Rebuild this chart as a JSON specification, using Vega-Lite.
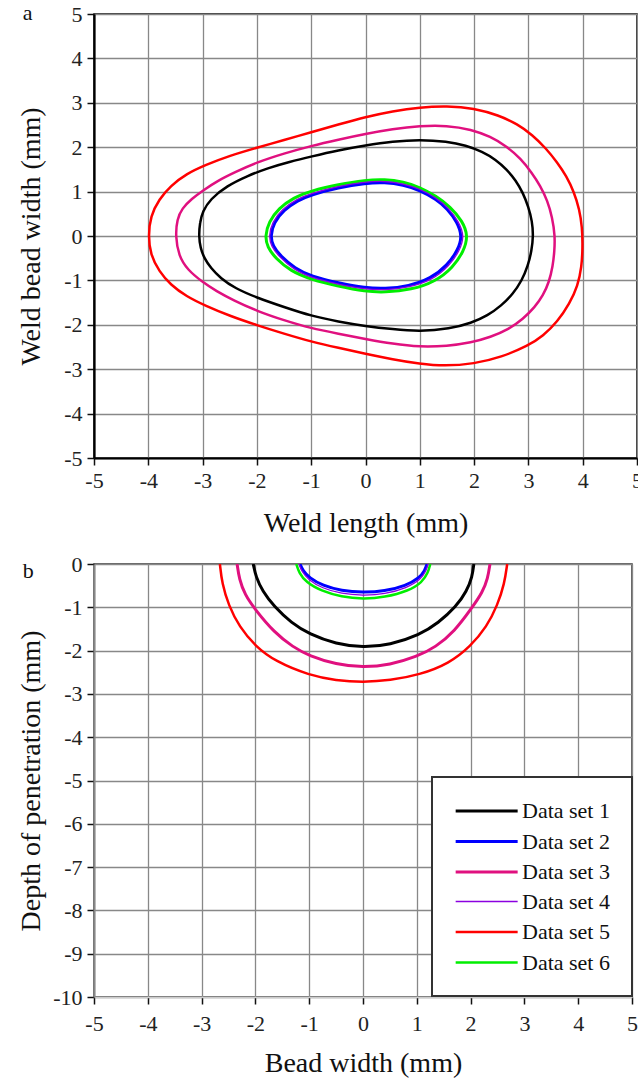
{
  "$schema": "https://vega.github.io/schema/vega-lite/v6.json",
  "background": "white",
  "padding": {"left": 16, "top": 1, "right": 0, "bottom": 0},
  "columns": 1,
  "spacing": 14,
  "config": {
    "font": "Liberation Serif",
    "axis": {
      "labelFont": "Liberation Serif", "labelFontSize": 22, "labelColor": "#222",
      "labelExpr": "replace(datum.label, '\u2212', '-')",
      "titleFont": "Liberation Serif", "titleFontSize": 28, "titleFontWeight": "normal", "titleColor": "#111",
      "tickColor": "#111", "tickSize": 7, "tickWidth": 1.5, "labelPadding": 5,
      "grid": true, "gridColor": "#888888", "gridWidth": 1.3,
      "domainColor": "#000", "domainWidth": 2.2
    },
    "legend": {"strokeWidth": 2}
  },
  "datasets": {
    "a": [
      {"s":"Data set 1","i":0,"x":-3.07,"y":0},{"s":"Data set 1","i":1,"x":-3.05,"y":0.3},{"s":"Data set 1","i":2,"x":-3.0,"y":0.55},{"s":"Data set 1","i":3,"x":-2.86,"y":0.83},{"s":"Data set 1","i":4,"x":-2.55,"y":1.13},{"s":"Data set 1","i":5,"x":-2.18,"y":1.35},{"s":"Data set 1","i":6,"x":-1.8,"y":1.53},{"s":"Data set 1","i":7,"x":-1.4,"y":1.67},{"s":"Data set 1","i":8,"x":-1,"y":1.79},{"s":"Data set 1","i":9,"x":-0.5,"y":1.93},{"s":"Data set 1","i":10,"x":0,"y":2.04},{"s":"Data set 1","i":11,"x":0.5,"y":2.13},{"s":"Data set 1","i":12,"x":1,"y":2.17},{"s":"Data set 1","i":13,"x":1.5,"y":2.13},{"s":"Data set 1","i":14,"x":1.85,"y":2.04},{"s":"Data set 1","i":15,"x":2.15,"y":1.9},{"s":"Data set 1","i":16,"x":2.4,"y":1.72},{"s":"Data set 1","i":17,"x":2.6,"y":1.5},{"s":"Data set 1","i":18,"x":2.77,"y":1.25},{"s":"Data set 1","i":19,"x":2.9,"y":0.97},{"s":"Data set 1","i":20,"x":3.0,"y":0.66},{"s":"Data set 1","i":21,"x":3.07,"y":0.33},{"s":"Data set 1","i":22,"x":3.09,"y":0},{"s":"Data set 1","i":23,"x":3.06,"y":-0.33},{"s":"Data set 1","i":24,"x":2.99,"y":-0.68},{"s":"Data set 1","i":25,"x":2.88,"y":-1.0},{"s":"Data set 1","i":26,"x":2.72,"y":-1.3},{"s":"Data set 1","i":27,"x":2.5,"y":-1.57},{"s":"Data set 1","i":28,"x":2.25,"y":-1.79},{"s":"Data set 1","i":29,"x":1.95,"y":-1.96},{"s":"Data set 1","i":30,"x":1.55,"y":-2.09},{"s":"Data set 1","i":31,"x":1,"y":-2.15},{"s":"Data set 1","i":32,"x":0.5,"y":-2.1},{"s":"Data set 1","i":33,"x":0,"y":-2.03},{"s":"Data set 1","i":34,"x":-0.5,"y":-1.93},{"s":"Data set 1","i":35,"x":-1,"y":-1.8},{"s":"Data set 1","i":36,"x":-1.5,"y":-1.6},{"s":"Data set 1","i":37,"x":-2,"y":-1.39},{"s":"Data set 1","i":38,"x":-2.4,"y":-1.18},{"s":"Data set 1","i":39,"x":-2.67,"y":-0.95},{"s":"Data set 1","i":40,"x":-2.85,"y":-0.72},{"s":"Data set 1","i":41,"x":-2.97,"y":-0.5},{"s":"Data set 1","i":42,"x":-3.04,"y":-0.27},

      {"s":"Data set 3","i":0,"x":-3.5,"y":0},{"s":"Data set 3","i":1,"x":-3.47,"y":0.38},{"s":"Data set 3","i":2,"x":-3.38,"y":0.62},{"s":"Data set 3","i":3,"x":-3.2,"y":0.84},{"s":"Data set 3","i":4,"x":-3,"y":1.02},{"s":"Data set 3","i":5,"x":-2.73,"y":1.24},{"s":"Data set 3","i":6,"x":-2.4,"y":1.44},{"s":"Data set 3","i":7,"x":-2,"y":1.66},{"s":"Data set 3","i":8,"x":-1.5,"y":1.86},{"s":"Data set 3","i":9,"x":-1,"y":2.03},{"s":"Data set 3","i":10,"x":-0.5,"y":2.17},{"s":"Data set 3","i":11,"x":0,"y":2.3},{"s":"Data set 3","i":12,"x":0.5,"y":2.41},{"s":"Data set 3","i":13,"x":1,"y":2.48},{"s":"Data set 3","i":14,"x":1.5,"y":2.49},{"s":"Data set 3","i":15,"x":1.95,"y":2.4},{"s":"Data set 3","i":16,"x":2.3,"y":2.24},{"s":"Data set 3","i":17,"x":2.6,"y":2.02},{"s":"Data set 3","i":18,"x":2.86,"y":1.74},{"s":"Data set 3","i":19,"x":3.06,"y":1.43},{"s":"Data set 3","i":20,"x":3.22,"y":1.13},{"s":"Data set 3","i":21,"x":3.35,"y":0.8},{"s":"Data set 3","i":22,"x":3.44,"y":0.42},{"s":"Data set 3","i":23,"x":3.49,"y":0},{"s":"Data set 3","i":24,"x":3.48,"y":-0.33},{"s":"Data set 3","i":25,"x":3.45,"y":-0.68},{"s":"Data set 3","i":26,"x":3.38,"y":-1.04},{"s":"Data set 3","i":27,"x":3.27,"y":-1.34},{"s":"Data set 3","i":28,"x":3.12,"y":-1.6},{"s":"Data set 3","i":29,"x":2.9,"y":-1.87},{"s":"Data set 3","i":30,"x":2.64,"y":-2.1},{"s":"Data set 3","i":31,"x":2.3,"y":-2.28},{"s":"Data set 3","i":32,"x":1.95,"y":-2.4},{"s":"Data set 3","i":33,"x":1.5,"y":-2.48},{"s":"Data set 3","i":34,"x":1,"y":-2.5},{"s":"Data set 3","i":35,"x":0.5,"y":-2.43},{"s":"Data set 3","i":36,"x":0,"y":-2.32},{"s":"Data set 3","i":37,"x":-0.5,"y":-2.2},{"s":"Data set 3","i":38,"x":-1,"y":-2.08},{"s":"Data set 3","i":39,"x":-1.5,"y":-1.9},{"s":"Data set 3","i":40,"x":-2,"y":-1.69},{"s":"Data set 3","i":41,"x":-2.43,"y":-1.45},{"s":"Data set 3","i":42,"x":-2.75,"y":-1.24},{"s":"Data set 3","i":43,"x":-3,"y":-1.04},{"s":"Data set 3","i":44,"x":-3.28,"y":-0.76},{"s":"Data set 3","i":45,"x":-3.44,"y":-0.45},

      {"s":"Data set 5","i":0,"x":-4,"y":0},{"s":"Data set 5","i":1,"x":-3.96,"y":0.45},{"s":"Data set 5","i":2,"x":-3.8,"y":0.83},{"s":"Data set 5","i":3,"x":-3.59,"y":1.13},{"s":"Data set 5","i":4,"x":-3.3,"y":1.4},{"s":"Data set 5","i":5,"x":-2.95,"y":1.6},{"s":"Data set 5","i":6,"x":-2.5,"y":1.81},{"s":"Data set 5","i":7,"x":-2,"y":1.99},{"s":"Data set 5","i":8,"x":-1.5,"y":2.16},{"s":"Data set 5","i":9,"x":-1,"y":2.34},{"s":"Data set 5","i":10,"x":-0.5,"y":2.51},{"s":"Data set 5","i":11,"x":0,"y":2.68},{"s":"Data set 5","i":12,"x":0.5,"y":2.81},{"s":"Data set 5","i":13,"x":1,"y":2.9},{"s":"Data set 5","i":14,"x":1.5,"y":2.93},{"s":"Data set 5","i":15,"x":2,"y":2.88},{"s":"Data set 5","i":16,"x":2.45,"y":2.72},{"s":"Data set 5","i":17,"x":2.8,"y":2.52},{"s":"Data set 5","i":18,"x":3.07,"y":2.28},{"s":"Data set 5","i":19,"x":3.32,"y":1.98},{"s":"Data set 5","i":20,"x":3.53,"y":1.66},{"s":"Data set 5","i":21,"x":3.7,"y":1.35},{"s":"Data set 5","i":22,"x":3.84,"y":0.99},{"s":"Data set 5","i":23,"x":3.94,"y":0.6},{"s":"Data set 5","i":24,"x":3.99,"y":0.2},{"s":"Data set 5","i":25,"x":4.0,"y":-0.25},{"s":"Data set 5","i":26,"x":3.98,"y":-0.7},{"s":"Data set 5","i":27,"x":3.91,"y":-1.12},{"s":"Data set 5","i":28,"x":3.76,"y":-1.52},{"s":"Data set 5","i":29,"x":3.53,"y":-1.94},{"s":"Data set 5","i":30,"x":3.27,"y":-2.25},{"s":"Data set 5","i":31,"x":3,"y":-2.47},{"s":"Data set 5","i":32,"x":2.5,"y":-2.73},{"s":"Data set 5","i":33,"x":2,"y":-2.88},{"s":"Data set 5","i":34,"x":1.45,"y":-2.93},{"s":"Data set 5","i":35,"x":1,"y":-2.88},{"s":"Data set 5","i":36,"x":0.5,"y":-2.78},{"s":"Data set 5","i":37,"x":0,"y":-2.65},{"s":"Data set 5","i":38,"x":-0.5,"y":-2.52},{"s":"Data set 5","i":39,"x":-1,"y":-2.38},{"s":"Data set 5","i":40,"x":-1.5,"y":-2.2},{"s":"Data set 5","i":41,"x":-2,"y":-2.01},{"s":"Data set 5","i":42,"x":-2.5,"y":-1.8},{"s":"Data set 5","i":43,"x":-2.95,"y":-1.57},{"s":"Data set 5","i":44,"x":-3.3,"y":-1.36},{"s":"Data set 5","i":45,"x":-3.59,"y":-1.1},{"s":"Data set 5","i":46,"x":-3.8,"y":-0.8},{"s":"Data set 5","i":47,"x":-3.96,"y":-0.42},

      {"s":"Data set 6","i":0,"x":-1.85,"y":0},{"s":"Data set 6","i":1,"x":-1.78,"y":0.32},{"s":"Data set 6","i":2,"x":-1.6,"y":0.62},{"s":"Data set 6","i":3,"x":-1.33,"y":0.86},{"s":"Data set 6","i":4,"x":-1,"y":1.02},{"s":"Data set 6","i":5,"x":-0.5,"y":1.16},{"s":"Data set 6","i":6,"x":0,"y":1.26},{"s":"Data set 6","i":7,"x":0.35,"y":1.28},{"s":"Data set 6","i":8,"x":0.7,"y":1.22},{"s":"Data set 6","i":9,"x":1,"y":1.1},{"s":"Data set 6","i":10,"x":1.3,"y":0.9},{"s":"Data set 6","i":11,"x":1.56,"y":0.66},{"s":"Data set 6","i":12,"x":1.79,"y":0.33},{"s":"Data set 6","i":13,"x":1.89,"y":0},{"s":"Data set 6","i":14,"x":1.81,"y":-0.34},{"s":"Data set 6","i":15,"x":1.61,"y":-0.71},{"s":"Data set 6","i":16,"x":1.28,"y":-1.03},{"s":"Data set 6","i":17,"x":0.85,"y":-1.21},{"s":"Data set 6","i":18,"x":0.35,"y":-1.27},{"s":"Data set 6","i":19,"x":0,"y":-1.25},{"s":"Data set 6","i":20,"x":-0.5,"y":-1.13},{"s":"Data set 6","i":21,"x":-1,"y":-0.98},{"s":"Data set 6","i":22,"x":-1.38,"y":-0.79},{"s":"Data set 6","i":23,"x":-1.65,"y":-0.51},{"s":"Data set 6","i":24,"x":-1.81,"y":-0.25},

      {"s":"Data set 2","i":0,"x":-1.75,"y":0},{"s":"Data set 2","i":1,"x":-1.69,"y":0.3},{"s":"Data set 2","i":2,"x":-1.51,"y":0.58},{"s":"Data set 2","i":3,"x":-1.25,"y":0.8},{"s":"Data set 2","i":4,"x":-1,"y":0.93},{"s":"Data set 2","i":5,"x":-0.5,"y":1.09},{"s":"Data set 2","i":6,"x":0,"y":1.19},{"s":"Data set 2","i":7,"x":0.35,"y":1.21},{"s":"Data set 2","i":8,"x":0.7,"y":1.15},{"s":"Data set 2","i":9,"x":1,"y":1.03},{"s":"Data set 2","i":10,"x":1.3,"y":0.83},{"s":"Data set 2","i":11,"x":1.51,"y":0.61},{"s":"Data set 2","i":12,"x":1.69,"y":0.31},{"s":"Data set 2","i":13,"x":1.78,"y":0},{"s":"Data set 2","i":14,"x":1.71,"y":-0.3},{"s":"Data set 2","i":15,"x":1.51,"y":-0.66},{"s":"Data set 2","i":16,"x":1.2,"y":-0.96},{"s":"Data set 2","i":17,"x":0.8,"y":-1.13},{"s":"Data set 2","i":18,"x":0.35,"y":-1.19},{"s":"Data set 2","i":19,"x":0,"y":-1.17},{"s":"Data set 2","i":20,"x":-0.5,"y":-1.06},{"s":"Data set 2","i":21,"x":-1,"y":-0.91},{"s":"Data set 2","i":22,"x":-1.3,"y":-0.73},{"s":"Data set 2","i":23,"x":-1.56,"y":-0.46},{"s":"Data set 2","i":24,"x":-1.71,"y":-0.22},

      {"s":"Data set 4","i":0,"x":-1.78,"y":0},{"s":"Data set 4","i":1,"x":-1.72,"y":0.31},{"s":"Data set 4","i":2,"x":-1.54,"y":0.6},{"s":"Data set 4","i":3,"x":-1.27,"y":0.83},{"s":"Data set 4","i":4,"x":-1,"y":0.96},{"s":"Data set 4","i":5,"x":-0.5,"y":1.12},{"s":"Data set 4","i":6,"x":0,"y":1.22},{"s":"Data set 4","i":7,"x":0.35,"y":1.24},{"s":"Data set 4","i":8,"x":0.7,"y":1.18},{"s":"Data set 4","i":9,"x":1,"y":1.06},{"s":"Data set 4","i":10,"x":1.3,"y":0.86},{"s":"Data set 4","i":11,"x":1.53,"y":0.63},{"s":"Data set 4","i":12,"x":1.72,"y":0.32},{"s":"Data set 4","i":13,"x":1.82,"y":0},{"s":"Data set 4","i":14,"x":1.74,"y":-0.32},{"s":"Data set 4","i":15,"x":1.54,"y":-0.68},{"s":"Data set 4","i":16,"x":1.23,"y":-0.99},{"s":"Data set 4","i":17,"x":0.81,"y":-1.16},{"s":"Data set 4","i":18,"x":0.35,"y":-1.22},{"s":"Data set 4","i":19,"x":0,"y":-1.2},{"s":"Data set 4","i":20,"x":-0.5,"y":-1.09},{"s":"Data set 4","i":21,"x":-1,"y":-0.94},{"s":"Data set 4","i":22,"x":-1.33,"y":-0.75},{"s":"Data set 4","i":23,"x":-1.59,"y":-0.47},{"s":"Data set 4","i":24,"x":-1.74,"y":-0.23}
    ],
    "b": [
      {"s":"Data set 1","i":0,"x":-2.04,"y":0},{"s":"Data set 1","i":1,"x":-1.99,"y":-0.3},{"s":"Data set 1","i":2,"x":-1.87,"y":-0.62},{"s":"Data set 1","i":3,"x":-1.65,"y":-0.99},{"s":"Data set 1","i":4,"x":-1.33,"y":-1.36},{"s":"Data set 1","i":5,"x":-1,"y":-1.62},{"s":"Data set 1","i":6,"x":-0.5,"y":-1.85},{"s":"Data set 1","i":7,"x":0,"y":-1.93},{"s":"Data set 1","i":8,"x":0.5,"y":-1.87},{"s":"Data set 1","i":9,"x":1.05,"y":-1.64},{"s":"Data set 1","i":10,"x":1.4,"y":-1.36},{"s":"Data set 1","i":11,"x":1.73,"y":-0.99},{"s":"Data set 1","i":12,"x":1.93,"y":-0.62},{"s":"Data set 1","i":13,"x":2.03,"y":-0.3},{"s":"Data set 1","i":14,"x":2.06,"y":0},

      {"s":"Data set 3","i":0,"x":-2.34,"y":0},{"s":"Data set 3","i":1,"x":-2.3,"y":-0.35},{"s":"Data set 3","i":2,"x":-2.2,"y":-0.7},{"s":"Data set 3","i":3,"x":-2.0,"y":-1.06},{"s":"Data set 3","i":4,"x":-1.65,"y":-1.58},{"s":"Data set 3","i":5,"x":-1.3,"y":-1.92},{"s":"Data set 3","i":6,"x":-1,"y":-2.12},{"s":"Data set 3","i":7,"x":-0.5,"y":-2.32},{"s":"Data set 3","i":8,"x":0,"y":-2.39},{"s":"Data set 3","i":9,"x":0.5,"y":-2.33},{"s":"Data set 3","i":10,"x":1.0,"y":-2.14},{"s":"Data set 3","i":11,"x":1.35,"y":-1.92},{"s":"Data set 3","i":12,"x":1.7,"y":-1.56},{"s":"Data set 3","i":13,"x":2.02,"y":-1.02},{"s":"Data set 3","i":14,"x":2.22,"y":-0.66},{"s":"Data set 3","i":15,"x":2.32,"y":-0.33},{"s":"Data set 3","i":16,"x":2.36,"y":0},

      {"s":"Data set 5","i":0,"x":-2.66,"y":0},{"s":"Data set 5","i":1,"x":-2.62,"y":-0.45},{"s":"Data set 5","i":2,"x":-2.5,"y":-0.95},{"s":"Data set 5","i":3,"x":-2.3,"y":-1.45},{"s":"Data set 5","i":4,"x":-2.0,"y":-1.9},{"s":"Data set 5","i":5,"x":-1.63,"y":-2.25},{"s":"Data set 5","i":6,"x":-1.0,"y":-2.57},{"s":"Data set 5","i":7,"x":-0.5,"y":-2.69},{"s":"Data set 5","i":8,"x":0,"y":-2.73},{"s":"Data set 5","i":9,"x":0.5,"y":-2.69},{"s":"Data set 5","i":10,"x":1.05,"y":-2.56},{"s":"Data set 5","i":11,"x":1.6,"y":-2.3},{"s":"Data set 5","i":12,"x":2.0,"y":-1.9},{"s":"Data set 5","i":13,"x":2.3,"y":-1.45},{"s":"Data set 5","i":14,"x":2.5,"y":-0.95},{"s":"Data set 5","i":15,"x":2.63,"y":-0.45},{"s":"Data set 5","i":16,"x":2.68,"y":0},

      {"s":"Data set 6","i":0,"x":-1.24,"y":0},{"s":"Data set 6","i":1,"x":-1.19,"y":-0.2},{"s":"Data set 6","i":2,"x":-1.06,"y":-0.42},{"s":"Data set 6","i":3,"x":-0.78,"y":-0.62},{"s":"Data set 6","i":4,"x":-0.4,"y":-0.76},{"s":"Data set 6","i":5,"x":0,"y":-0.81},{"s":"Data set 6","i":6,"x":0.4,"y":-0.77},{"s":"Data set 6","i":7,"x":0.85,"y":-0.62},{"s":"Data set 6","i":8,"x":1.1,"y":-0.42},{"s":"Data set 6","i":9,"x":1.21,"y":-0.2},{"s":"Data set 6","i":10,"x":1.25,"y":0},

      {"s":"Data set 2","i":0,"x":-1.17,"y":0},{"s":"Data set 2","i":1,"x":-1.12,"y":-0.15},{"s":"Data set 2","i":2,"x":-1.0,"y":-0.32},{"s":"Data set 2","i":3,"x":-0.75,"y":-0.5},{"s":"Data set 2","i":4,"x":-0.4,"y":-0.62},{"s":"Data set 2","i":5,"x":0,"y":-0.66},{"s":"Data set 2","i":6,"x":0.4,"y":-0.63},{"s":"Data set 2","i":7,"x":0.8,"y":-0.5},{"s":"Data set 2","i":8,"x":1.05,"y":-0.32},{"s":"Data set 2","i":9,"x":1.15,"y":-0.15},{"s":"Data set 2","i":10,"x":1.19,"y":0},

      {"s":"Data set 4","i":0,"x":-1.19,"y":0},{"s":"Data set 4","i":1,"x":-1.14,"y":-0.17},{"s":"Data set 4","i":2,"x":-1.02,"y":-0.36},{"s":"Data set 4","i":3,"x":-0.76,"y":-0.56},{"s":"Data set 4","i":4,"x":-0.4,"y":-0.69},{"s":"Data set 4","i":5,"x":0,"y":-0.73},{"s":"Data set 4","i":6,"x":0.4,"y":-0.7},{"s":"Data set 4","i":7,"x":0.82,"y":-0.55},{"s":"Data set 4","i":8,"x":1.07,"y":-0.36},{"s":"Data set 4","i":9,"x":1.17,"y":-0.17},{"s":"Data set 4","i":10,"x":1.21,"y":0}
    ]
  },
  "concat": [
    {
      "width": 543,
      "height": 444,
      "title": {"text": "a", "anchor": "start", "frame": "bounds", "font": "Liberation Serif", "fontSize": 22, "fontWeight": "normal", "color": "#111", "dx": 5, "dy": 22, "offset": 0},
      "data": {"name": "a"},
      "view": {"stroke": "#000", "strokeWidth": 1.5},
      "mark": {"type": "line", "interpolate": "basis-closed", "clip": true},
      "encoding": {
        "x": {"field": "x", "type": "quantitative", "scale": {"domain": [-5, 5], "nice": false},
              "axis": {"title": "Weld length (mm)", "values": [-5,-4,-3,-2,-1,0,1,2,3,4,5], "titlePadding": 18, "labelFlush": false}},
        "y": {"field": "y", "type": "quantitative", "scale": {"domain": [-5, 5], "nice": false},
              "axis": {"title": "Weld bead width (mm)", "values": [-5,-4,-3,-2,-1,0,1,2,3,4,5], "titlePadding": 18, "labelFlush": false}},
        "color": {"field": "s", "type": "nominal",
                  "scale": {"domain": ["Data set 1","Data set 2","Data set 3","Data set 4","Data set 5","Data set 6"],
                            "range": ["#000000","#0000ff","#e0107f","#8b00e0","#ff0000","#00ee00"]}, "legend": null},
        "strokeWidth": {"field": "s", "type": "nominal",
                        "scale": {"type": "ordinal", "domain": ["Data set 1","Data set 2","Data set 3","Data set 4","Data set 5","Data set 6"],
                                  "range": [2.5, 3, 2.5, 1.3, 2.5, 3]}, "legend": null},
        "order": {"field": "i", "type": "quantitative"}
      }
    },
    {
      "width": 538,
      "height": 433,
      "title": {"text": "b", "anchor": "start", "frame": "bounds", "font": "Liberation Serif", "fontSize": 22, "fontWeight": "normal", "color": "#111", "dx": 5, "dy": 30, "offset": 0},
      "data": {"name": "b"},
      "view": {"stroke": "#333", "strokeWidth": 1.5},
      "mark": {"type": "line", "interpolate": "basis", "clip": true},
      "encoding": {
        "x": {"field": "x", "type": "quantitative", "scale": {"domain": [-5, 5], "nice": false},
              "axis": {"title": "Bead width (mm)", "values": [-5,-4,-3,-2,-1,0,1,2,3,4,5], "titlePadding": 15, "labelPadding": 9, "labelFlush": false, "domainColor": "#cccccc", "domainWidth": 1.5}},
        "y": {"field": "y", "type": "quantitative", "scale": {"domain": [-10, 0], "nice": false},
              "axis": {"title": "Depth of penetration (mm)", "values": [-10,-9,-8,-7,-6,-5,-4,-3,-2,-1,0], "titlePadding": 7, "labelFlush": false, "domainColor": "#888888", "domainWidth": 2}},
        "color": {"field": "s", "type": "nominal",
                  "scale": {"domain": ["Data set 1","Data set 2","Data set 3","Data set 4","Data set 5","Data set 6"],
                            "range": ["#000000","#0000ff","#e0107f","#8b00e0","#ff0000","#00ee00"]},
                  "legend": {"orient": "none", "legendX": 338, "legendY": 213, "title": null, "padding": 22,
                             "fillColor": "white", "strokeColor": "#333", "symbolType": "M-1,0H5", "symbolSize": 427,
                             "labelOffset": 44, "labelFont": "Liberation Serif", "labelFontSize": 22, "labelColor": "#111",
                             "rowPadding": 7.5, "labelLimit": 300}},
        "strokeWidth": {"field": "s", "type": "nominal",
                        "scale": {"type": "ordinal", "domain": ["Data set 1","Data set 2","Data set 3","Data set 4","Data set 5","Data set 6"],
                                  "range": [3, 3, 3, 1.3, 2.5, 2.5]}},
        "order": {"field": "i", "type": "quantitative"}
      }
    }
  ],
  "resolve": {"scale": {"color": "independent", "strokeWidth": "independent"}, "legend": {"color": "independent", "strokeWidth": "independent"}}
}
